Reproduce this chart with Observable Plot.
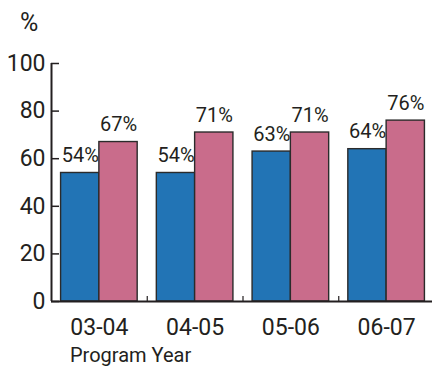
<!DOCTYPE html>
<html>
<head>
<meta charset="utf-8">
<script src="https://cdn.jsdelivr.net/npm/d3@7"></script>
<script src="https://cdn.jsdelivr.net/npm/@observablehq/plot@0.6"></script>
<style>
  html, body { margin: 0; padding: 0; background: #fff; }
  #chart { width: 432px; height: 371px; font-family: Roboto, sans-serif; color: #231f20; }
  .unit { height: 40px; line-height: 46px; font-size: 25px; padding-left: 20px; }
  .xtitle { height: 29px; line-height: 24px; font-size: 20px; padding-left: 70px; margin-top: 1px; }
  svg { display: block; }
</style>
</head>
<body>
<div id="chart">
  <div class="unit">%</div>
  <div id="plot"></div>
  <div class="xtitle">Program Year</div>
</div>
<script>
// Program years on the x axis
const years = ["03-04", "04-05", "05-06", "06-07"];
// Two series of percentages per year
const seriesBlue = [54, 54, 63, 64];
const seriesPink = [67, 71, 71, 76];
// Y axis ticks
const yTicks = [0, 20, 40, 60, 80, 100];

const colors = {blue: "#2274b5", pink: "#c96c8b"};
const half = 0.4; // width of one bar, in group units

const rows = years.flatMap((year, i) => [
  {year, i, series: "blue", value: seriesBlue[i], x1: i - half, x2: i},
  {year, i, series: "pink", value: seriesPink[i], x1: i, x2: i + half}
]);

const groupIdx = years.map((_, i) => i);
const boundaries = years.slice(1).map((_, i) => i + 0.5);
const xDomain = [-0.5, years.length - 0.5];

const chart = Plot.plot({
  width: 432,
  height: 302,
  marginLeft: 51,
  marginRight: -2,
  marginTop: 23,
  marginBottom: 41,
  style: {fontFamily: "Roboto, sans-serif", color: "#231f20", background: "#fff", overflow: "visible"},
  x: {domain: xDomain, axis: null},
  y: {domain: [0, 100], axis: null},
  marks: [
    Plot.rectY(rows, {
      x1: "x1", x2: "x2", y: "value",
      fill: d => colors[d.series],
      stroke: "#2b2b2b", strokeWidth: 1.4
    }),
    Plot.text(rows, {
      x: d => (d.x1 + d.x2) / 2, y: "value",
      text: d => `${d.value}%`,
      lineAnchor: "bottom", dy: -11,
      fontSize: 20, fill: "#231f20"
    }),
    // left axis line and bottom axis line
    Plot.ruleX([xDomain[0]], {stroke: "#231f20", strokeWidth: 2}),
    Plot.ruleY([0], {stroke: "#231f20", strokeWidth: 2}),
    Plot.axisY({ticks: yTicks, label: null, tickSize: -8, tickPadding: 14, fontSize: 23, strokeWidth: 1.5, stroke: "#231f20"}),
    // short upward ticks between groups
    Plot.axisX({ticks: boundaries, label: null, tickSize: -5, tickFormat: () => "", stroke: "#231f20", strokeWidth: 1.2}),
    Plot.axisX({ticks: groupIdx, label: null, tickSize: 0, tickPadding: 17, tickFormat: i => years[i], fontSize: 23})
  ]
});
document.getElementById("plot").appendChild(chart);
</script>
</body>
</html>
